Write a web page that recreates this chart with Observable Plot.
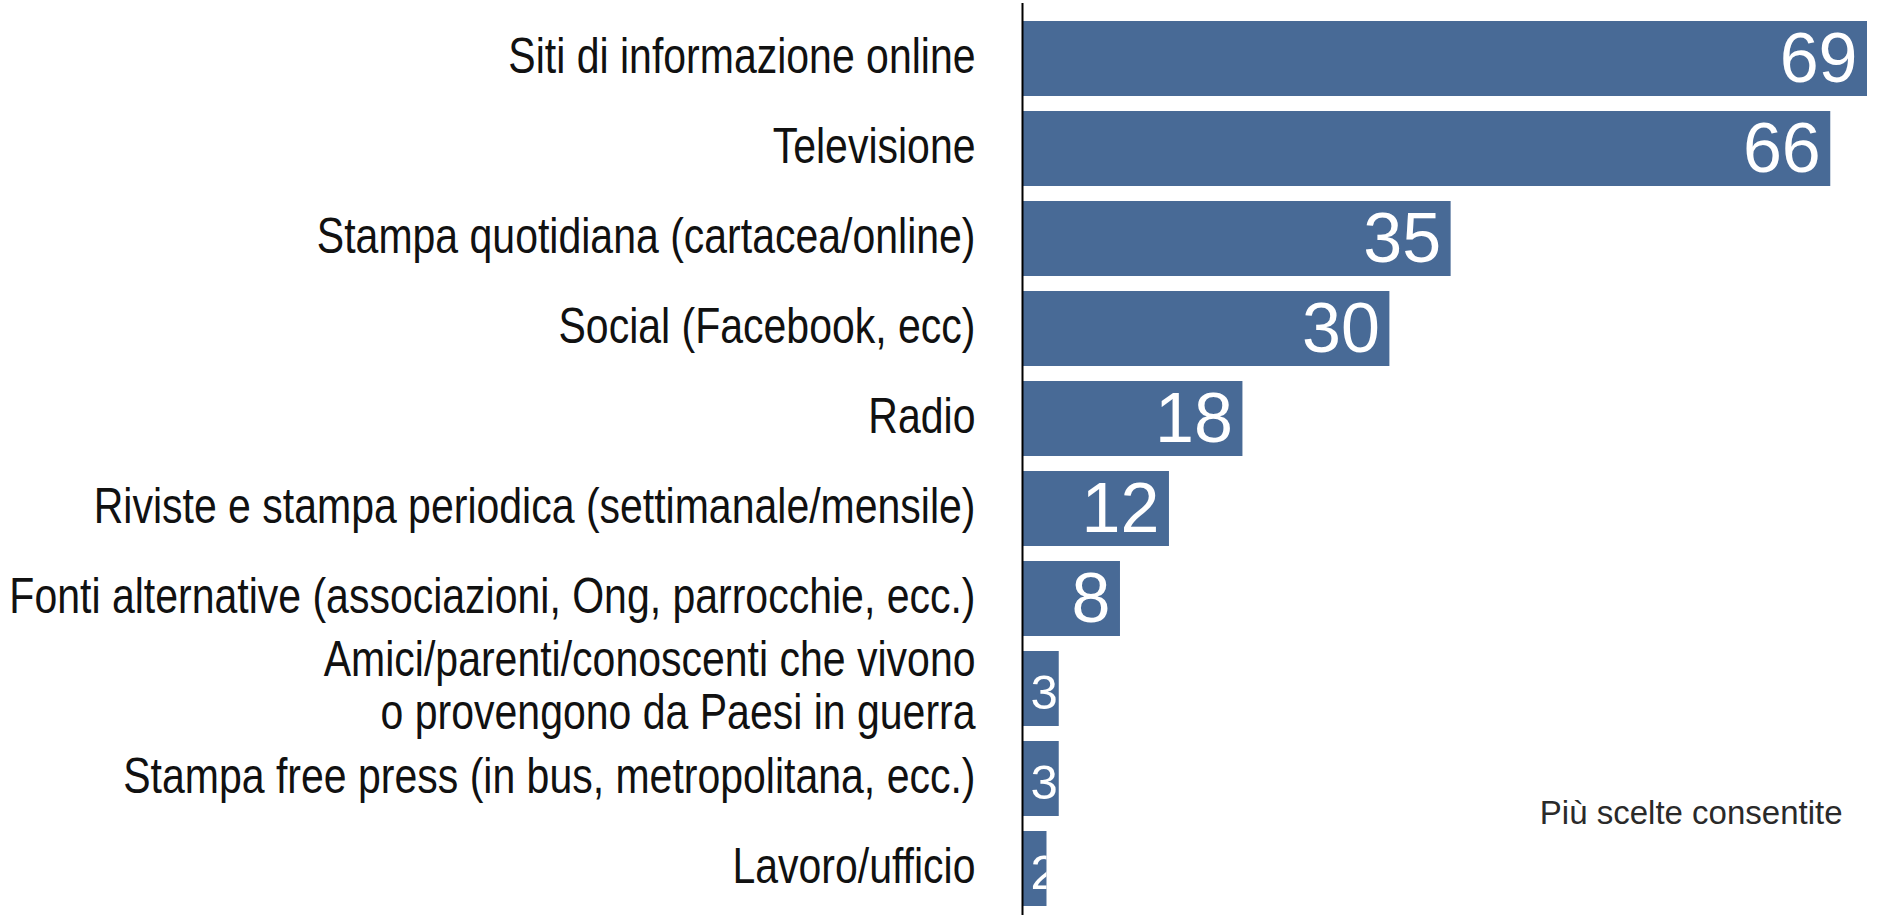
<!DOCTYPE html>
<html>
<head>
<meta charset="utf-8">
<script src="https://cdn.jsdelivr.net/npm/d3@7"></script>
<script src="https://cdn.jsdelivr.net/npm/@observablehq/plot@0.6"></script>
<style>
  html, body { margin: 0; padding: 0; background: #fff; }
  #chart svg { display: block; }
</style>
</head>
<body>
<div id="chart"></div>
<script>
const categories = [
  "Siti di informazione online",
  "Televisione",
  "Stampa quotidiana (cartacea/online)",
  "Social (Facebook, ecc)",
  "Radio",
  "Riviste e stampa periodica (settimanale/mensile)",
  "Fonti alternative (associazioni, Ong, parrocchie, ecc.)",
  "Amici/parenti/conoscenti che vivono\no provengono da Paesi in guerra",
  "Stampa free press (in bus, metropolitana, ecc.)",
  "Lavoro/ufficio"
];
const values = [69, 66, 35, 30, 18, 12, 8, 3, 3, 2];
const note = "Più scelte consentite";

const data = categories.map((c, i) => ({id: i, cat: c, value: values[i]}));
const ids = data.map(d => d.id);
const SMALL = 5;
const big = data.filter(d => d.value > SMALL);
const small = data.filter(d => d.value <= SMALL);

const barColor = "#486a96";
const labelFont = "'Liberation Sans', Arial, sans-serif";
const numFont = "'Liberation Sans', Arial, sans-serif";
const CONDENSE = 0.82;

const plot = Plot.plot({
  width: 1883,
  height: 915,
  marginLeft: 1022,
  marginRight: 16,
  marginTop: 3,
  marginBottom: 0,
  style: {background: "#fff"},
  x: {domain: [0, 69], axis: null},
  y: {domain: ids, axis: null, paddingInner: 0.164, paddingOuter: 0.126, align: 0.66},
  marks: [
    Plot.barX(data, {x: "value", y: "id", fill: barColor}),
    Plot.text(data, {
      x: 0, y: "id", text: "cat", dx: -47, dy: -3, textAnchor: "end",
      fontSize: 50, fontFamily: labelFont, fill: "#111", lineHeight: 1.06,
      className: "cat-label"
    }),
    Plot.text(big, {
      x: "value", y: "id", text: d => String(d.value), dx: -10, dy: 1,
      textAnchor: "end", fontSize: 70, fontFamily: numFont, fill: "#fff"
    }),
    Plot.text(small, {
      x: 0, y: "id", text: d => String(d.value), dx: 8, dy: 4,
      textAnchor: "start", fontSize: 49, fontFamily: numFont, fill: "#fff",
      className: "small-label"
    }),
    Plot.ruleX([0], {stroke: "#000", strokeWidth: 2}),
    Plot.text([note], {
      frameAnchor: "bottom-right", dx: -25, dy: -92, textAnchor: "end",
      fontSize: 33, fontFamily: numFont, fill: "#2a2a2a"
    })
  ]
});

(function () {
  const NS = "http://www.w3.org/2000/svg";
  const sx = plot.scale("x"), sy = plot.scale("y");
  const svg = d3.select(plot);

  // condensed look for the category labels (horizontal squeeze around the anchor)
  svg.selectAll("g.cat-label text").each(function () {
    const t = this.getAttribute("transform") || "";
    this.setAttribute("transform", t + ` scale(${CONDENSE},1)`);
  });

  // clip the small value labels to their bars (using the plot's own scales)
  const defs = svg.insert("defs", ":first-child");
  const cp = defs.append("clipPath").attr("id", "clip-small");
  small.forEach(d => {
    cp.append("rect")
      .attr("x", sx.apply(0))
      .attr("width", sx.apply(d.value) - sx.apply(0))
      .attr("y", sy.apply(d.id))
      .attr("height", sy.bandwidth);
  });
  const g = plot.querySelector("g.small-label");
  if (g) {
    const wrap = document.createElementNS(NS, "g");
    g.parentNode.insertBefore(wrap, g);
    wrap.appendChild(g);
    wrap.setAttribute("clip-path", "url(#clip-small)");
  }
})();

document.getElementById("chart").appendChild(plot);
</script>
</body>
</html>
